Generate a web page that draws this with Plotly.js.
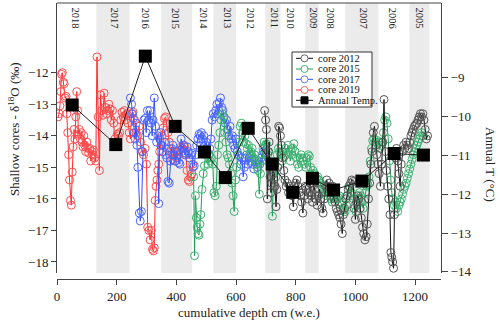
<!DOCTYPE html>
<html>
<head>
<meta charset="utf-8">
<script src="https://cdn.plot.ly/plotly-3.0.1.min.js"></script>
<style>
  html, body { margin: 0; padding: 0; background: #fff; }
  #chart { width: 500px; height: 321px; }
</style>
</head>
<body>
<div id="chart"></div>
<script>
// core 2019 (red)
const depth2019 = [4,7,10,13,15,18,21,24,27,30,33,36,39,42,45,48,51,54,57,60,63,66,69,72,75,78,81,84,87,90,93,96,100,103,106,110,113,116,119,122,126,130,134,138,142,146,150,154,158,162,166,170,174,178,182,186,190,194,198,202,206,210,214,218,222,226,230,234,238,242,246,250,255,260,265,270,275,280,285,290,295,300,304,308,312,316,320,323,326,329,332,335,338,341,344,348,352,356,360,364,368,372,376,380,384,388,392,396,400,404,408,412,416,420,424,428,432,436,440,444,448,452,455];
const d18O2019 = [-13.4,-13.3,-13.05,-12.6,-12.05,-12.0,-12.3,-12.35,-12.8,-12.75,-13.3,-13.9,-14.6,-15.4,-16.05,-16.2,-15.15,-14.35,-13.8,-14.1,-13.4,-12.6,-13.2,-13.95,-13.8,-14.1,-13.9,-14.2,-14.35,-14.0,-14.3,-14.5,-14.2,-14.4,-14.55,-14.4,-14.8,-14.5,-14.6,-14.45,-14.7,-14.8,-11.5,-13.4,-15.1,-12.7,-13.2,-13.35,-12.65,-13.1,-13.3,-13.2,-13.0,-13.15,-13.5,-13.2,-13.6,-14.1,-14.2,-13.95,-14.0,-13.9,-13.5,-13.25,-13.4,-13.2,-13.5,-13.3,-13.6,-13.9,-14.1,-13.3,-13.25,-13.5,-13.9,-14.0,-13.7,-14.2,-14.5,-14.6,-14.4,-14.9,-16.9,-17.0,-17.3,-17.0,-17.6,-17.65,-17.55,-16.05,-15.6,-15.4,-15.1,-14.9,-14.5,-14.3,-14.0,-13.75,-13.45,-13.4,-13.6,-13.9,-14.2,-14.5,-14.6,-14.75,-14.5,-14.8,-14.7,-14.5,-14.6,-14.45,-14.35,-14.4,-14.3,-14.35,-14.6,-15.1,-15.4,-15.45,-15.3,-15.2,-14.9];

// core 2017 (blue)
const depth2017 = [246,250,253,256,259,262,265,268,271,276,279,283,287,291,295,299,303,307,311,315,319,322,326,330,334,338,341,344,348,352,356,360,364,368,372,376,380,384,388,392,396,400,404,408,412,416,420,424,428,432,436,440,444,448,452,456,460,464,468,472,476,480,484,488,492,496,500,504,508,512,516,520,524,528,532,536,540,544,548,552,556,560,564,568,572,576,580,584,588,592,596,600,604,608,612,616,620,624,628,632,636,640,644,648,652,656,660,664,668,672,676,680,684,688,692,696,700];
const d18O2017 = [-12.8,-13.0,-13.3,-13.45,-13.9,-14.1,-13.6,-14.3,-15.0,-16.45,-16.7,-16.4,-14.5,-13.5,-13.45,-13.9,-13.2,-13.5,-13.2,-13.6,-14.0,-13.5,-12.8,-13.7,-14.2,-14.0,-16.15,-14.1,-13.9,-14.3,-14.5,-14.2,-14.6,-14.7,-15.45,-15.5,-14.8,-14.4,-14.3,-14.6,-14.8,-14.5,-14.6,-14.85,-14.9,-14.1,-14.4,-14.3,-14.6,-14.55,-14.35,-14.5,-14.7,-14.6,-14.55,-15.0,-14.95,-14.6,-14.3,-14.1,-13.95,-14.0,-13.9,-14.1,-14.0,-14.3,-14.2,-14.5,-14.6,-14.4,-14.1,-13.5,-13.3,-13.4,-13.2,-13.0,-13.3,-12.95,-12.8,-13.1,-13.2,-13.4,-13.6,-13.5,-13.8,-14.0,-13.7,-14.1,-14.0,-14.3,-14.4,-14.1,-14.5,-14.6,-14.65,-14.9,-14.7,-15.3,-15.0,-14.7,-14.6,-14.9,-14.7,-14.8,-14.6,-14.9,-15.05,-14.8,-14.9,-15.0,-14.8,-14.9,-14.7,-14.6,-14.5,-14.55,-14.45];

// core 2015 (green)
const depth2015 = [458,461,464,467,470,473,476,479,482,486,490,494,498,502,506,510,514,518,522,526,530,534,538,542,546,550,554,558,562,566,570,574,578,582,586,590,594,598,602,606,610,614,618,622,626,630,634,638,642,646,650,654,658,662,666,670,674,678,682,686,690,694,698,702,706,710,714,718,722,726,730,734,738,742,746,750,754,758,762,766,770,774,778,782,786,790,794,798,802,806,810,814,818,822,826,830,834,838,842,846,850,854,858,862,866,870,874,878,882,886,890,894,898,902,906,910,914,918,922,926,930,934,938,942,946,950,954,958,962,966,970,974,978,982,986,990,994,998,1002,1006,1010,1014,1018,1022,1026,1030,1034,1038,1042,1046,1050,1054,1058,1062,1066,1070,1074,1078,1082,1086,1090,1094,1098,1102,1106,1110,1114,1118,1122,1126,1130,1134,1138,1142,1146,1150,1154,1158,1162,1166,1170,1174,1178,1182,1186,1190,1194,1198,1202,1206,1210,1214,1218,1222,1226];
const d18O2015 = [-15.3,-17.8,-15.9,-16.6,-16.9,-17.1,-17.15,-16.8,-16.5,-15.7,-15.2,-14.95,-14.6,-14.5,-14.9,-14.6,-14.8,-14.7,-14.9,-15.8,-15.9,-15.6,-14.6,-14.3,-13.9,-13.5,-13.3,-13.4,-13.9,-14.2,-14.6,-14.7,-14.9,-15.2,-15.5,-15.9,-16.4,-15.4,-15.0,-14.6,-14.2,-13.7,-13.6,-13.9,-14.2,-14.0,-14.25,-14.4,-14.3,-14.6,-14.5,-14.4,-14.7,-14.6,-14.8,-14.9,-15.1,-15.85,-15.2,-14.8,-14.4,-14.2,-14.3,-14.25,-14.6,-14.5,-14.9,-15.3,-16.55,-15.1,-14.9,-15.3,-14.6,-14.4,-14.5,-14.6,-14.8,-14.5,-14.65,-14.4,-14.55,-14.3,-14.5,-14.8,-14.6,-14.4,-14.25,-14.5,-14.7,-14.9,-15.0,-14.7,-14.6,-14.7,-14.8,-14.9,-15.0,-14.7,-14.6,-14.65,-15.0,-15.2,-15.1,-15.2,-15.3,-15.35,-15.3,-15.4,-15.5,-15.6,-15.55,-15.7,-15.8,-15.9,-15.75,-15.8,-15.9,-16.0,-16.1,-15.9,-15.8,-15.9,-16.0,-15.95,-15.9,-16.1,-16.2,-16.3,-16.35,-16.4,-16.2,-15.9,-15.6,-15.65,-15.8,-15.9,-16.0,-16.2,-16.4,-16.2,-16.0,-15.8,-15.9,-16.1,-16.3,-16.05,-15.8,-15.6,-15.55,-15.3,-14.8,-14.4,-14.15,-14.1,-14.2,-14.35,-14.15,-14.2,-14.4,-14.3,-14.2,-13.9,-13.5,-13.4,-13.6,-14.1,-14.8,-15.4,-15.8,-16.0,-16.2,-16.1,-16.3,-16.4,-16.2,-16.1,-16.0,-15.85,-15.7,-15.6,-15.5,-15.35,-15.2,-15.05,-14.9,-14.75,-14.6,-14.5,-14.4,-14.3,-14.2,-14.1,-14.0,-13.9,-14.0];

// core 2012 (black)
const depth2012 = [696,699,702,705,708,711,714,717,720,724,728,731,734,737,740,743,746,749,752,756,760,764,768,772,776,780,784,788,792,796,800,804,808,812,816,820,824,828,832,836,840,844,848,852,856,860,864,868,872,876,880,884,888,892,896,900,904,908,912,916,920,924,928,932,936,940,944,948,952,956,960,964,968,972,976,980,984,988,992,996,1000,1004,1008,1012,1016,1020,1024,1028,1032,1036,1040,1044,1048,1052,1056,1060,1064,1068,1072,1076,1080,1084,1088,1092,1096,1100,1104,1108,1112,1116,1119,1122,1125,1128,1131,1134,1138,1142,1146,1150,1154,1158,1162,1166,1170,1174,1178,1182,1186,1190,1194,1198,1202,1206,1210,1214,1218,1222,1226,1230,1234,1238,1242];
const d18O2012 = [-13.2,-13.5,-13.8,-16.0,-14.5,-14.2,-15.3,-15.8,-15.5,-15.0,-15.2,-15.6,-16.25,-15.7,-15.0,-13.7,-13.75,-14.0,-14.3,-14.7,-15.1,-15.4,-15.6,-15.5,-15.8,-15.6,-15.75,-15.9,-16.25,-15.6,-15.5,-15.4,-15.6,-15.8,-15.9,-16.1,-16.45,-15.9,-15.6,-15.7,-16.0,-15.8,-15.5,-15.9,-16.1,-15.5,-15.7,-16.0,-16.2,-15.9,-15.7,-16.0,-16.3,-16.45,-16.0,-15.6,-15.4,-15.6,-15.5,-15.7,-15.8,-15.6,-16.0,-16.1,-16.3,-16.4,-16.5,-16.6,-16.8,-17.1,-16.5,-16.3,-16.0,-15.9,-15.7,-15.6,-15.5,-15.4,-15.45,-16.3,-16.65,-16.1,-15.9,-16.0,-16.3,-16.6,-16.9,-17.1,-17.3,-17.2,-16.8,-16.0,-15.5,-14.9,-14.5,-13.9,-13.7,-14.3,-14.6,-14.9,-15.2,-15.6,-14.9,-14.2,-12.85,-14.5,-15.1,-15.6,-16.0,-16.5,-17.7,-17.85,-18.0,-18.2,-16.5,-14.7,-14.4,-14.8,-15.2,-15.6,-14.9,-14.5,-14.3,-14.4,-14.2,-14.3,-14.4,-14.2,-14.0,-13.9,-13.8,-13.7,-13.65,-13.6,-13.5,-13.4,-13.3,-13.4,-13.3,-13.5,-13.8,-14.1,-14.0];

// annual temperature (right axis)
const tempDepth = [51,197,296,396,494,564,641,721,790,856,927,1022,1130,1228];
const tempValue = [-9.70,-10.72,-8.44,-10.25,-10.91,-11.57,-10.30,-11.22,-11.95,-11.59,-11.89,-11.66,-10.95,-10.99];

// shaded years and year labels
const bandStart = [132,349,524,698,832,966,1181];
const bandEnd = [243,453,600,749,877,1077,1248];
const yearNames = ['2018','2017','2016','2015','2014','2013','2012','2011','2010','2009','2008','2007','2006','2005'];
const yearDepth = [62,193,299,399,491,572,651,729,785,863,919,1030,1127,1218];

const serif = 'Liberation Serif, Times New Roman, serif';
const axisCol = '#444';

// pixel -> paper helpers (plot area spans x 57..441, y 3..279)
function px(x) { return (x - 57) / 384; }
function py(y) { return (279 - y) / 276; }

function coreTrace(x, y, lineCol, markCol) {
    return {
        x: x, y: y, type: 'scatter', mode: 'lines+markers',
        line: {color: lineCol, width: 1},
        marker: {symbol: 'circle-open', size: 8, color: markCol, line: {width: 1, color: markCol}},
        showlegend: false, hoverinfo: 'skip'
    };
}

const traces = [
    coreTrace(depth2019, d18O2019, '#ff2a2a', '#ff4d4d'),
    coreTrace(depth2017, d18O2017, '#2f4fff', '#4a66ff'),
    coreTrace(depth2015, d18O2015, '#1e9e55', '#3cb371'),
    coreTrace(depth2012, d18O2012, '#111111', '#555555'),
    {
        x: tempDepth, y: tempValue, yaxis: 'y2', type: 'scatter', mode: 'lines+markers',
        line: {color: '#222', width: 1},
        marker: {symbol: 'square', size: 13, color: '#000'},
        showlegend: false, hoverinfo: 'skip'
    }
];

let shapes = [];
bandStart.forEach((s, i) => {
    shapes.push({type: 'rect', xref: 'x', yref: 'y domain', x0: s, x1: bandEnd[i], y0: 0, y1: 1,
        fillcolor: '#ebebeb', line: {width: 0}, layer: 'below'});
});
// top frame line
shapes.push({type: 'line', xref: 'paper', yref: 'paper', x0: 0, x1: 1, y0: 1, y1: 1,
    line: {color: axisCol, width: 1}});

let annotations = yearNames.map((t, i) => ({
    text: t, x: yearDepth[i], xref: 'x', y: py(18), yref: 'paper',
    xanchor: 'center', yanchor: 'middle',
    textangle: 90, showarrow: false, font: {family: serif, size: 10.5, color: '#222'}
}));

// axis titles
annotations.push({text: 'Shallow cores - δ<sup>18</sup>O (‰)', xref: 'paper', yref: 'paper',
    x: px(14), y: py(129), xanchor: 'center', yanchor: 'middle',
    textangle: -90, showarrow: false, font: {family: serif, size: 13, color: '#222'}});
annotations.push({text: 'Annual T (°C)', xref: 'paper', yref: 'paper',
    x: px(490), y: py(164), xanchor: 'center', yanchor: 'middle',
    textangle: 90, showarrow: false, font: {family: serif, size: 13, color: '#222'}});
annotations.push({text: 'cumulative depth cm (w.e.)', xref: 'paper', yref: 'paper',
    x: px(249), y: py(312), xanchor: 'center', yanchor: 'middle',
    showarrow: false, font: {family: serif, size: 13, color: '#222'}});

// hand-built legend box
const legNames = ['core 2012', 'core 2015', 'core 2017', 'core 2019', 'Annual Temp.'];
const legLine = ['#111111', '#1e9e55', '#2f4fff', '#ff2a2a', '#111111'];
const legMark = ['#666666', '#3cb371', '#6680ff', '#ff6666', '#000000'];
const legRows = [58.3, 69, 79.3, 90, 100.3];
shapes.push({type: 'rect', xref: 'paper', yref: 'paper', x0: px(292), x1: px(372), y0: py(52), y1: py(107),
    fillcolor: '#fff', line: {color: '#333', width: 1}});
legNames.forEach((name, i) => {
    const yy = py(legRows[i]);
    shapes.push({type: 'line', xref: 'paper', yref: 'paper', x0: px(296), x1: px(313), y0: yy, y1: yy,
        line: {color: legLine[i], width: 1}});
    if (i < 4) {
        shapes.push({type: 'circle', xref: 'paper', yref: 'paper', xsizemode: 'pixel', ysizemode: 'pixel',
            xanchor: px(304.5), yanchor: yy, x0: -3.5, x1: 3.5, y0: -3.5, y1: 3.5,
            fillcolor: '#fff', line: {color: legMark[i], width: 1}});
    } else {
        shapes.push({type: 'rect', xref: 'paper', yref: 'paper', xsizemode: 'pixel', ysizemode: 'pixel',
            xanchor: px(304.5), yanchor: yy, x0: -3.5, x1: 3.5, y0: -3.5, y1: 3.5,
            fillcolor: '#000', line: {color: '#000', width: 1}});
    }
    annotations.push({text: name, xref: 'paper', yref: 'paper', x: px(316), y: yy,
        xanchor: 'left', yanchor: 'middle', showarrow: false,
        font: {family: serif, size: 10.5, color: '#111'}});
});

const layout = {
    width: 500, height: 321,
    margin: {l: 57, r: 59, t: 3, b: 42},
    paper_bgcolor: '#fff', plot_bgcolor: '#fff',
    font: {family: serif, size: 13, color: '#222'},
    showlegend: false,
    xaxis: {
        range: [0, 1287], anchor: 'free', position: 0,
        tickvals: [0, 200, 400, 600, 800, 1000, 1200],
        ticks: 'outside', ticklen: 5, tickcolor: axisCol,
        showline: true, linecolor: axisCol, linewidth: 1,
        showgrid: false, zeroline: false
    },
    yaxis: {
        range: [-18.35, -9.79], domain: [0.0217, 1], anchor: 'x',
        tickvals: [-18, -17, -16, -15, -14, -13, -12],
        ticks: 'outside', ticklen: 5, tickcolor: axisCol,
        showline: true, linecolor: axisCol, linewidth: 1,
        showgrid: false, zeroline: false
    },
    yaxis2: {
        range: [-14.03, -7.07], domain: [0.0217, 1], overlaying: 'y', side: 'right', anchor: 'x',
        tickvals: [-14, -13, -12, -11, -10, -9],
        ticks: 'outside', ticklen: 6, tickcolor: axisCol,
        showline: true, linecolor: axisCol, linewidth: 1,
        showgrid: false, zeroline: false
    },
    shapes: shapes,
    annotations: annotations
};

Plotly.newPlot('chart', traces, layout, {staticPlot: true});
</script>
</body>
</html>
